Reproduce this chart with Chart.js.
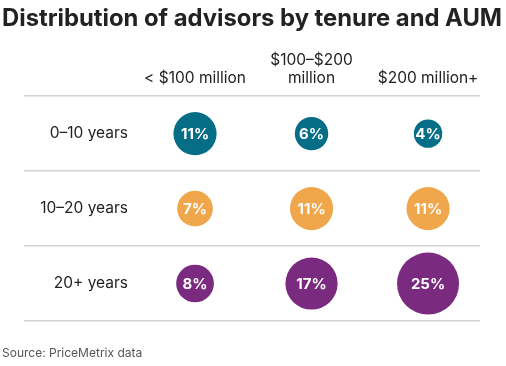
<!DOCTYPE html>
<html lang="en">
<head>
    <meta charset="UTF-8">
    <title>Distribution of advisors by tenure and AUM</title>
    <script src="https://cdn.jsdelivr.net/npm/chart.js"></script>
    <style>
        body { margin: 0; background: #fff; }
    </style>
</head>
<body>
    <canvas id="tenureChart" width="506" height="366"></canvas>

    <script>
        // AUM columns and tenure rows
        const aumBands = ['< $100 million', ['$100–$200', 'million'], '$200 million+'];
        const tenures = ['0–10 years', '10–20 years', '20+ years'];

        // share of advisors (%) per tenure row, one value per AUM column
        const share0to10 = [11, 6, 4];
        const share10to20 = [7, 11, 11];
        const share20plus = [8, 17, 25];

        const rowColors = ['#066d87', '#f0a64a', '#7a2a7f'];
        const FONT = 'Inter';

        // bubble area follows the share
        function bubbleRadius(v) {
            return 3 + 5.6 * Math.sqrt(v);
        }

        // right edge of the row labels sits at x=128, plot starts at x=24
        const m = document.createElement('canvas').getContext('2d');
        m.font = '15.5px ' + FONT;
        const widest = Math.max(...tenures.map(t => m.measureText(t).width));
        const rowLabelPad = 128 - 24 - widest;

        const rows = [share0to10, share10to20, share20plus];
        const datasets = rows.map((vals, i) => ({
            label: tenures[i],
            data: vals.map((v, j) => ({ x: j, y: tenures[i], r: bubbleRadius(v), pct: v })),
            backgroundColor: rowColors[i],
            borderWidth: 0,
            hoverBorderWidth: 0
        }));

        // white % text in the middle of each bubble
        const bubbleText = {
            id: 'bubbleText',
            afterDatasetsDraw(chart) {
                const ctx = chart.ctx;
                ctx.save();
                ctx.fillStyle = '#fff';
                ctx.font = 'bold 15px ' + FONT;
                ctx.textAlign = 'center';
                ctx.textBaseline = 'middle';
                chart.data.datasets.forEach((ds, i) => {
                    chart.getDatasetMeta(i).data.forEach((pt, j) => {
                        ctx.fillText(ds.data[j].pct + '%', pt.x, pt.y + 1);
                    });
                });
                ctx.restore();
            }
        };

        const ctx = document.getElementById('tenureChart').getContext('2d');
        new Chart(ctx, {
            type: 'bubble',
            data: { datasets: datasets },
            plugins: [bubbleText],
            options: {
                responsive: false,
                animation: false,
                events: [],
                layout: { autoPadding: false, padding: { left: 2, right: 0, top: 5, bottom: 0 } },
                plugins: {
                    legend: { display: false },
                    tooltip: { enabled: false },
                    title: {
                        display: true,
                        text: 'Distribution of advisors by tenure and AUM',
                        align: 'start',
                        color: '#222',
                        font: { family: FONT, size: 23.8, weight: 'bold', lineHeight: 1.2 },
                        padding: { top: 0, bottom: 8.2 }
                    },
                    subtitle: {
                        display: true,
                        position: 'bottom',
                        text: 'Source: PriceMetrix data',
                        align: 'start',
                        color: '#555',
                        font: { family: FONT, size: 12, lineHeight: 1.2 },
                        padding: { top: 25.6, bottom: 5 }
                    }
                },
                scales: {
                    x: {
                        type: 'linear',
                        position: 'top',
                        min: -1.468,
                        max: 2.446,
                        afterBuildTicks: (scale) => {
                            scale.ticks = aumBands.map((_, i) => ({ value: i }));
                        },
                        ticks: {
                            callback: (v) => aumBands[v],
                            color: '#222',
                            padding: 9,
                            maxRotation: 0,
                            autoSkip: false,
                            font: { family: FONT, size: 15.5, lineHeight: '18.2px' }
                        },
                        grid: { display: false, drawTicks: false },
                        border: { display: false }
                    },
                    y: {
                        type: 'category',
                        labels: tenures,
                        offset: true,
                        afterFit: (scale) => { scale.width = 22; },
                        ticks: {
                            mirror: true,
                            crossAlign: 'far',
                            padding: rowLabelPad,
                            color: '#222',
                            font: { family: FONT, size: 15.5 }
                        },
                        grid: {
                            offset: true,
                            drawTicks: false,
                            color: '#d2d2d2',
                            lineWidth: 1.5
                        },
                        border: { display: false }
                    },
                    // empty right axis: keeps the rules ending at x=480
                    yRight: {
                        type: 'category',
                        labels: tenures,
                        position: 'right',
                        afterFit: (scale) => { scale.width = 26; },
                        ticks: { display: false },
                        grid: { display: false, drawTicks: false },
                        border: { display: false }
                    }
                }
            }
        });
    </script>
</body>
</html>
